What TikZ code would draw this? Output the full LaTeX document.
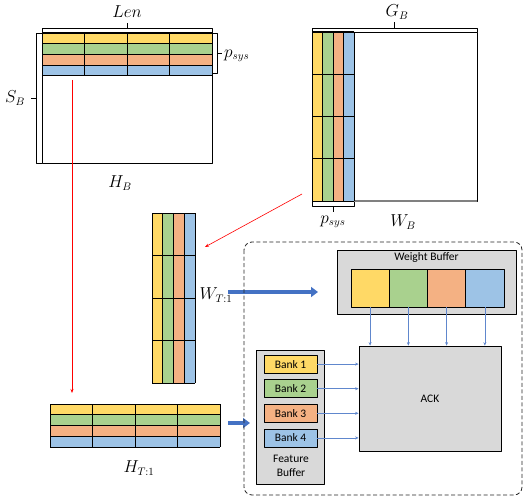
\documentclass[tikz,border=0pt]{standalone}
\usepackage{fontspec}
\setmainfont{Carlito}
\usetikzlibrary{arrows.meta}
\definecolor{cyel}{HTML}{FFD966}
\definecolor{cgrn}{HTML}{A9D18E}
\definecolor{corg}{HTML}{F4B183}
\definecolor{cblu}{HTML}{9DC3E6}
\definecolor{cbox}{HTML}{D9D9D9}
\definecolor{carr}{HTML}{4472C4}
\tikzset{
  buf/.style={draw=black, fill=cbox, line width=0.8pt, inner sep=0pt},
  bank/.style={draw=black, line width=0.8pt, minimum width=53pt, minimum height=18pt, inner sep=0pt},
  wcell/.style={draw=black, line width=0.8pt, minimum width=38.25pt, minimum height=38pt, inner sep=0pt},
  thinarr/.style={-{Stealth[length=3.5pt,width=3pt]}, carr!85, line width=0.6pt},
  bigarr/.style={-{Triangle[length=7pt,width=10pt]}, carr, line width=4pt},
  redarr/.style={-{Stealth[length=4pt,width=3pt]}, red, line width=0.6pt},
  lab/.style={font=\fontsize{16}{18}\selectfont, inner sep=0pt}
}
\begin{document}
\begin{tikzpicture}[x=1pt, y=-1pt, line join=round, font=\fontsize{11.5}{14}\selectfont]
	\useasboundingbox (0,0) rectangle (526,497);
	\def\hrow{10.75}\def\hcol{42.5}\def\wcol{10.5}\def\wrow{42.25}
	\foreach \c [count=\i from 0] in {cyel,cgrn,corg,cblu} {
		\fill[\c] (42,33+\i*\hrow) rectangle (212,33+\i*\hrow+\hrow);
		\fill[\c] (50,404+\i*\hrow) rectangle (220,404+\i*\hrow+\hrow);
		\fill[\c] (312+\i*\wcol,32) rectangle (312+\i*\wcol+\wcol,201);
		\fill[\c] (152+\i*\hrow,213) rectangle (152+\i*\hrow+\hrow,383);
	}
	\draw[line width=0.8pt] (42,33) rectangle (212,163);
	\draw[line width=0.8pt] (312,32) rectangle (477,201);
	\draw[gray, line width=1.5pt] (354,201)--(477,201);
	\foreach \i in {0,...,4} {
		\draw[line width=1pt] (42,33+\i*\hrow)--(212,33+\i*\hrow);
		\draw[line width=1pt] (42+\i*\hcol,33)--(42+\i*\hcol,76);
		\draw[line width=1pt] (50,404+\i*\hrow)--(220,404+\i*\hrow);
		\draw[line width=1pt] (50+\i*\hcol,404)--(50+\i*\hcol,447);
		\draw[line width=1pt] (312+\i*\wcol,32)--(312+\i*\wcol,201);
		\draw[line width=1pt] (312,32+\i*\wrow)--(354,32+\i*\wrow);
		\draw[line width=1pt] (152+\i*\hrow,213)--(152+\i*\hrow,383);
		\draw[line width=1pt] (152,213+\i*\hcol)--(195,213+\i*\hcol);
	}
	\draw[line width=0.8pt] (42,33)--(42,28)--(212,28)--(212,33) (127,28)--(127,23);
	\draw[line width=0.8pt] (42,33)--(36,33)--(36,163)--(42,163) (36,98)--(31,98);
	\draw[line width=0.8pt] (212,33)--(217,33)--(217,73)--(212,73) (217,53)--(222,53);
	\draw[line width=0.8pt] (312,32)--(312,28)--(477,28)--(477,32) (394,28)--(394,22);
	\draw[line width=0.8pt] (312,202)--(312,206)--(354,206)--(354,202) (333,206)--(333,212);
	\node[lab] (len) at (127,12) {$Len$};
	\node[lab] (sb) at (15,98) {$S_B$};
	\node[lab, anchor=west] (psys) at (224,56) {$p_{sys}$};
	\node[lab] (hb) at (120,183) {$H_B$};
	\node[lab] (gb) at (397,12) {$G_B$};
	\node[lab] (psysw) at (333,222) {$p_{sys}$};
	\node[lab] (wb) at (403,222) {$W_B$};
	\node[lab] (wt) at (216,295) {$W_{T:1}$};
	\node[lab] (ht) at (139,468) {$H_{T:1}$};
	\coordinate (hsrc) at (72,80);
	\coordinate (hdst) at (72,393);
	\coordinate (wsrc) at (302,194);
	\coordinate (wdst) at (205,247);
	\draw[redarr] (hsrc)--(hdst);
	\draw[redarr] (wsrc)--(wdst);
	\coordinate (wout) at (228,292);
	\coordinate (win) at (318,292);
	\coordinate (hout) at (228,423);
	\coordinate (hin) at (250,423);
	\draw[bigarr] (wout)--(win);
	\draw[bigarr] (hout)--(hin);
	\draw[dash pattern=on 4pt off 2.5pt, rounded corners=8pt, line width=0.8pt, black!85] (244,242) rectangle (522,495);
	\node[buf, minimum width=179pt, minimum height=64pt] (wbuf) at (426.5,282) {};
	\node[anchor=north, inner sep=3pt] (wlab) at (wbuf.north) {Weight Buffer};
	\foreach \c [count=\i from 0] in {cyel,cgrn,corg,cblu}
		\node[wcell, fill=\c] (w\i) at (370.1+\i*38.25,288) {};
	\node[buf, minimum width=142pt, minimum height=105pt] (ack) at (430,398.5) {ACK};
	\foreach \i in {0,...,3} \draw[thinarr] (w\i.south)--(w\i.south |- ack.north);
	\node[buf, minimum width=68pt, minimum height=134pt] (fbuf) at (290,417) {};
	\foreach \c [count=\i] in {cyel,cgrn,corg,cblu} {
		\node[bank, fill=\c] (b\i) at (290.5,339.5+\i*24.6) {Bank \i};
		\draw[thinarr] (b\i.east)--(b\i.east -| ack.west);
	}
	\node[align=center] (flab) at (291,466) {Feature\\Buffer};
\end{tikzpicture}
\end{document}
